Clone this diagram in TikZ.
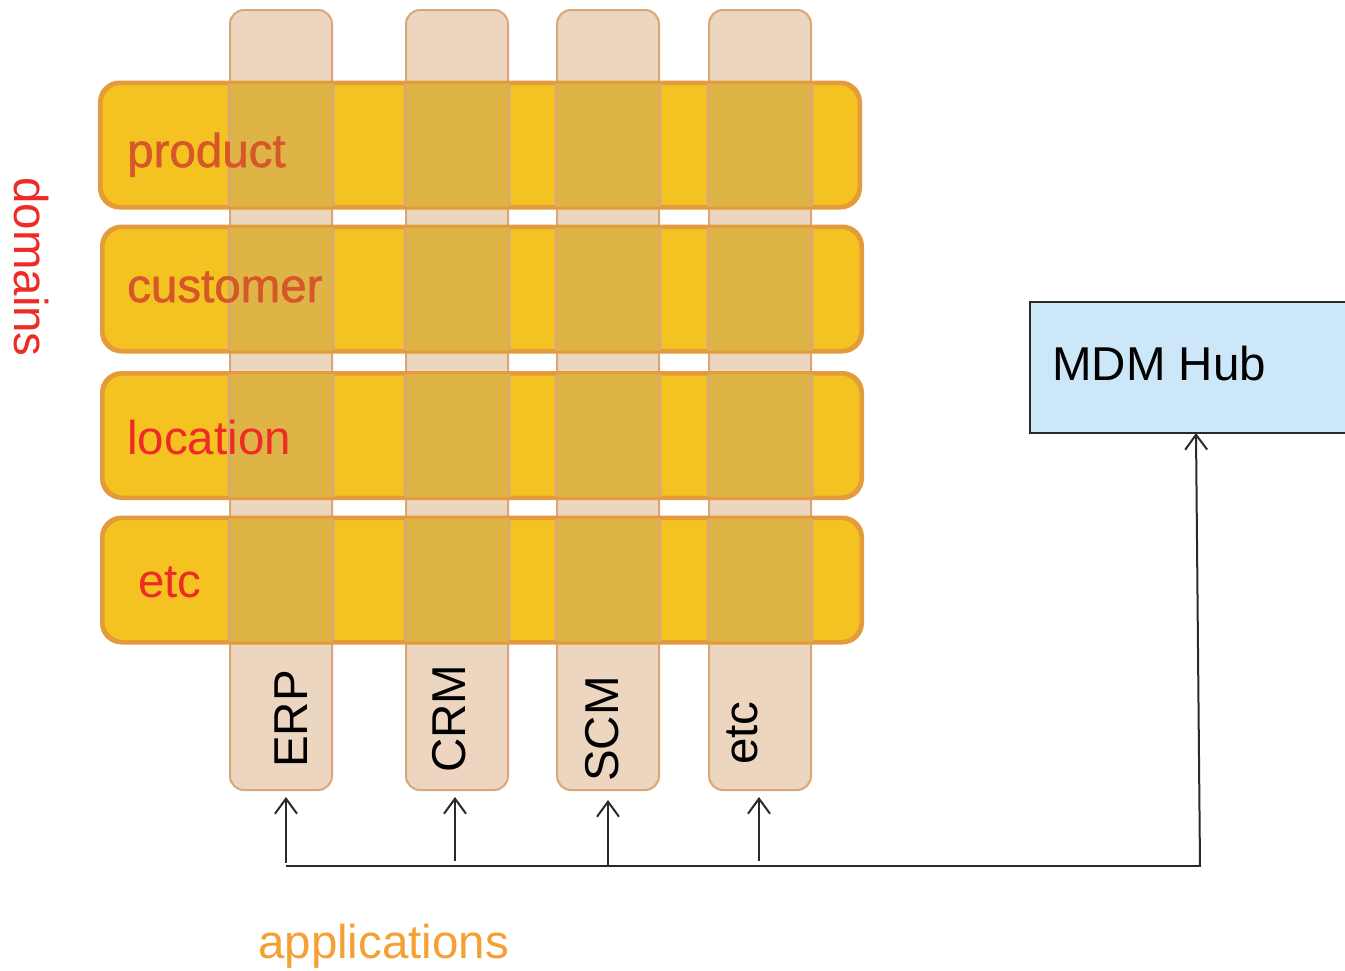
\documentclass[tikz,border=0pt]{standalone}
\usepackage{fontspec}
\setmainfont{Liberation Sans}
\newfontfamily\semibf[FakeBold=1.2]{Liberation Sans}
\usetikzlibrary{arrows.meta}
\definecolor{bandF}{HTML}{F4C221}
\definecolor{bandB}{HTML}{E39B3B}
\definecolor{colF}{HTML}{ECD6BF}
\definecolor{colB}{HTML}{D9A77A}
\definecolor{ovlF}{HTML}{DDB445}
\definecolor{prodC}{HTML}{D5572A}
\definecolor{redC}{HTML}{EE2B24}
\definecolor{appC}{HTML}{F5A033}
\definecolor{hubF}{HTML}{CCE8F8}
\definecolor{lineC}{HTML}{2A2A2A}
\begin{document}
\begin{tikzpicture}[x=1pt,y=-1pt,
  col/.style={draw=colB, line width=2pt, fill=colF, rounded corners=14pt, minimum width=102pt, minimum height=780pt, inner sep=0pt},
  band/.style={draw=bandB, line width=3pt, fill=bandF, rounded corners=20pt, minimum width=758pt, minimum height=123pt, inner sep=0pt},
  lbl/.style={font=\fontsize{47.5}{56}\selectfont, inner sep=0pt},
  blbl/.style={font=\fontsize{47.5}{56}\semibf, inner sep=0pt},
  ln/.style={draw=lineC, line width=2pt},
  arr/.style={ln, -{Straight Barb[length=15pt,width=22pt,line width=2pt]}},
  hub/.style={draw=lineC, line width=2pt, fill=hubF, minimum width=320pt, minimum height=131pt, inner sep=0pt}]
\useasboundingbox (0,0) rectangle (1345,970);
% columns
\node[col] (erp) at (281,400) {};
\node[col] (crm) at (457,400) {};
\node[col] (scm) at (608,400) {};
\node[col] (etcc) at (760,400) {};
% bands
\node[band] (prod) at (480,145) {};
\node[band] (cust) at (482,289) {};
\node[band] (loc) at (482,435.5) {};
\node[band] (etcb) at (482,580) {};
% overlaps
\begin{scope}
  \clip[rounded corners=20pt] (prod.north west) rectangle (prod.south east)
    (cust.north west) rectangle (cust.south east)
    (loc.north west) rectangle (loc.south east)
    (etcb.north west) rectangle (etcb.south east);
  \foreach \c in {erp,crm,scm,etcc}{
    \fill[ovlF, rounded corners=14pt] (\c.north west) rectangle (\c.south east);
    \draw[colB, line width=2.5pt, rounded corners=14pt] (\c.north west) rectangle (\c.south east);
  }
\end{scope}
\foreach \b in {prod,cust,loc,etcb}{
  \draw[bandB, line width=3pt, rounded corners=20pt] (\b.north west) rectangle (\b.south east);
}
% band labels
\node[blbl, text=prodC, anchor=base west] (tprod) at (127,167) {product};
\node[blbl, text=prodC, anchor=base west] (tcust) at (127,302) {customer};
\node[lbl, text=redC, anchor=base west] (tloc) at (127,454) {location};
\node[lbl, text=redC, anchor=base west] (tetcb) at (138,597) {etc};
% column labels
\node[lbl, rotate=90, anchor=base west] (terp) at (307,768) {ERP};
\node[lbl, rotate=90, anchor=base west] (tcrm) at (465,773) {CRM};
\node[lbl, rotate=90, anchor=base west] (tscm) at (618,782) {SCM};
\node[lbl, rotate=90, anchor=base west] (tetcc) at (757,765) {etc};
% side labels
\node[lbl, text=redC, rotate=-90, anchor=base west] (tdom) at (14,177) {domains};
\node[lbl, text=appC, anchor=base west] (tapp) at (258,958) {applications};
% hub
\node[hub] (mdm) at (1190,367.5) {};
\node[lbl, anchor=base west] (tmdm) at (1052,380) {MDM Hub};
% connectors
\coordinate (erpTip) at (286,797);
\coordinate (crmTip) at (455,797);
\coordinate (scmTip) at (608,800);
\coordinate (etcTip) at (759,797);
\coordinate (erpFoot) at (286,863);
\coordinate (crmFoot) at (455,861);
\coordinate (scmFoot) at (608,866);
\coordinate (etcFoot) at (759,861);
\coordinate (busL) at (286,866);
\coordinate (busR) at (1201,866);
\coordinate (hubFoot) at (1200,866);
\coordinate (hubTip) at (1196,433);
\draw[arr] (erpFoot) -- (erpTip);
\draw[arr] (crmFoot) -- (crmTip);
\draw[arr] (scmFoot) -- (scmTip);
\draw[arr] (etcFoot) -- (etcTip);
\draw[ln] (busL) -- (busR);
\draw[arr] (hubFoot) -- (hubTip);
\end{tikzpicture}
\end{document}
